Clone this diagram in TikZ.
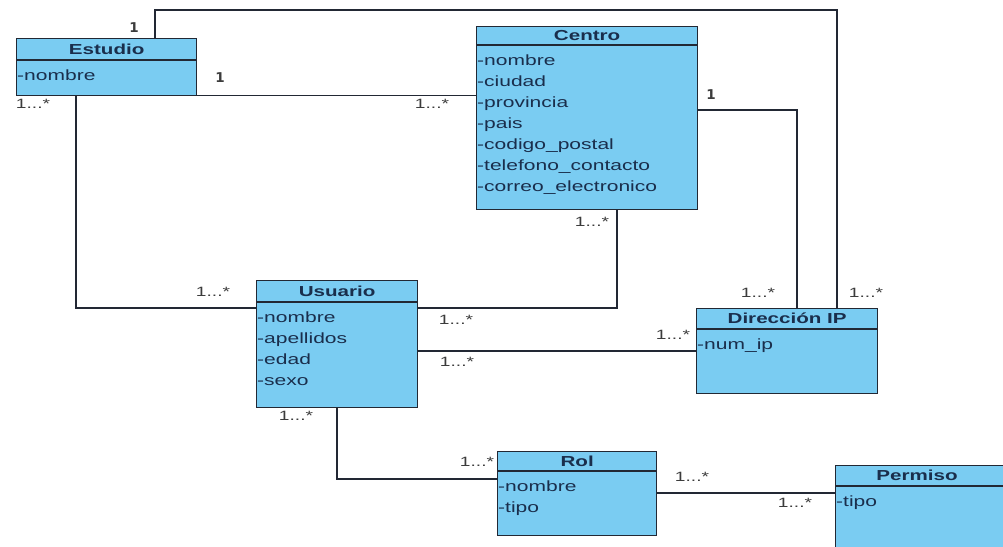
\documentclass[tikz,border=0pt]{standalone}
\usepackage{fontspec}
\setmainfont{Liberation Sans}
\newfontfamily\umlfont[FakeStretch=1.42]{Liberation Sans}
\newfontfamily\onefont{DejaVu Sans}
\usetikzlibrary{calc}
\definecolor{clsfill}{RGB}{122,204,242}
\definecolor{clstext}{RGB}{26,46,76}
\definecolor{clsline}{RGB}{34,40,52}
\definecolor{multtext}{RGB}{60,60,60}
\begin{document}
\begin{tikzpicture}[x=1pt,y=-1pt,
  cls/.style={draw=clsline, line width=1.3pt, fill=clsfill, rectangle, inner sep=0pt, anchor=north west},
  clssep/.style={draw=clsline, line width=1.3pt},
  clstitle/.style={font=\umlfont\bfseries\fontsize{14.5}{16}\selectfont, text=clstext, text height=10.4pt, text depth=0pt, inner sep=0pt},
  attr/.style={font=\umlfont\fontsize{14.8}{16}\selectfont, text=clstext, anchor=base west, inner sep=0pt},
  assoc/.style={draw=clsline, line width=1.1pt},
  mult/.style={font=\umlfont\fontsize{13.5}{15}\selectfont, text=multtext, inner sep=0pt},
  one/.style={font=\onefont\bfseries\fontsize{13.5}{15}\selectfont, text=multtext, inner sep=0pt}]
\useasboundingbox (0,0) rectangle (1003,546);
\clip (0,0) rectangle (1003,546);

% ---------- classes ----------
% Estudio
\node[cls, minimum width=180, minimum height=57] (est) at (16,38) {};
\draw[clssep] ([yshift=-22pt]est.north west) -- ([yshift=-22pt]est.north east);
\node[clstitle] (estT) at ([yshift=-11pt]est.north) {Estudio};
\node[attr] (estA1) at ([xshift=1pt,yshift=-42pt]est.north west) {-nombre};

% Centro
\node[cls, minimum width=221, minimum height=183] (cen) at (476,26) {};
\draw[clssep] ([yshift=-19pt]cen.north west) -- ([yshift=-19pt]cen.north east);
\node[clstitle] (cenT) at ([yshift=-9.5pt]cen.north) {Centro};
\foreach \a [count=\i from 0] in {nombre,ciudad,provincia,pais,codigo\_postal,telefono\_contacto,correo\_electronico}
  \node[attr] (cenA\i) at ([xshift=1pt,yshift={-39pt-21pt*\i}]cen.north west) {-\a};

% Usuario
\node[cls, minimum width=161, minimum height=127] (usr) at (256,280) {};
\draw[clssep] ([yshift=-22pt]usr.north west) -- ([yshift=-22pt]usr.north east);
\node[clstitle] (usrT) at ([yshift=-11pt]usr.north) {Usuario};
\foreach \a [count=\i from 0] in {nombre,apellidos,edad,sexo}
  \node[attr] (usrA\i) at ([xshift=1pt,yshift={-42pt-21pt*\i}]usr.north west) {-\a};

% Dirección IP
\node[cls, minimum width=181, minimum height=85] (dip) at (696,308) {};
\draw[clssep] ([yshift=-21pt]dip.north west) -- ([yshift=-21pt]dip.north east);
\node[clstitle] (dipT) at ([yshift=-10.5pt]dip.north) {Dirección IP};
\node[attr] (dipA1) at ([xshift=1pt,yshift=-41pt]dip.north west) {-num\_ip};

% Rol
\node[cls, minimum width=159, minimum height=84] (rol) at (497,451) {};
\draw[clssep] ([yshift=-20pt]rol.north west) -- ([yshift=-20pt]rol.north east);
\node[clstitle] (rolT) at ([yshift=-10pt]rol.north) {Rol};
\foreach \a [count=\i from 0] in {nombre,tipo}
  \node[attr] (rolA\i) at ([xshift=1pt,yshift={-40pt-21pt*\i}]rol.north west) {-\a};

% Permiso (runs past the right and bottom edges)
\node[cls, minimum width=180, minimum height=100] (prm) at (835,465) {};
\draw[clssep] ([yshift=-21pt]prm.north west) -- ([yshift=-21pt]prm.north east);
\node[clstitle] (prmT) at ([yshift=-10.5pt]prm.north west -| 917,0) {Permiso};
\node[attr] (prmA1) at ([xshift=1pt,yshift=-41pt]prm.north west) {-tipo};

% ---------- associations ----------
\coordinate (ring) at (837,10);
\draw[assoc] ([xshift=139pt]est.north west) |- (ring) -- ([xshift=141pt]dip.north west);
\draw[assoc] ([yshift=1pt]est.south east) -- ([yshift=1pt]est.south east -| cen.west);
\draw[assoc] ([yshift=-84pt]cen.north east) -| ([xshift=101pt]dip.north west);
\draw[assoc] ([xshift=141pt]cen.south west) |- ([yshift=-28pt]usr.north east);
\draw[assoc] ([yshift=-28pt]usr.north west) -| ([xshift=60pt]est.south west);
\draw[assoc] ([yshift=-71pt]usr.north east) -- ([yshift=-71pt]usr.north east -| dip.west);
\draw[assoc] ([xshift=81pt]usr.south west) |- ([yshift=-28pt]rol.north west);
\draw[assoc] ([yshift=-42pt]rol.north east) -- ([yshift=-42pt]rol.north east -| prm.west);

% ---------- multiplicities ----------
\node[one] (m1) at (134,28) {1};
\node[one] (m2) at (220,78) {1};
\node[mult] (m3) at (33,104) {1...*};
\node[mult] (m4) at (432,104) {1...*};
\node[one] (m5) at (711,95) {1};
\node[mult] (m6) at (592,222) {1...*};
\node[mult] (m7) at (213,292) {1...*};
\node[mult] (m8) at (456,320) {1...*};
\node[mult] (m9) at (457,362) {1...*};
\node[mult] (m10) at (296,416) {1...*};
\node[mult] (m11) at (477,462) {1...*};
\node[mult] (m12) at (692,477) {1...*};
\node[mult] (m13) at (795,503) {1...*};
\node[mult] (m14) at (758,293) {1...*};
\node[mult] (m15) at (866,293) {1...*};
\node[mult] (m16) at (673,335) {1...*};
\end{tikzpicture}
\end{document}
